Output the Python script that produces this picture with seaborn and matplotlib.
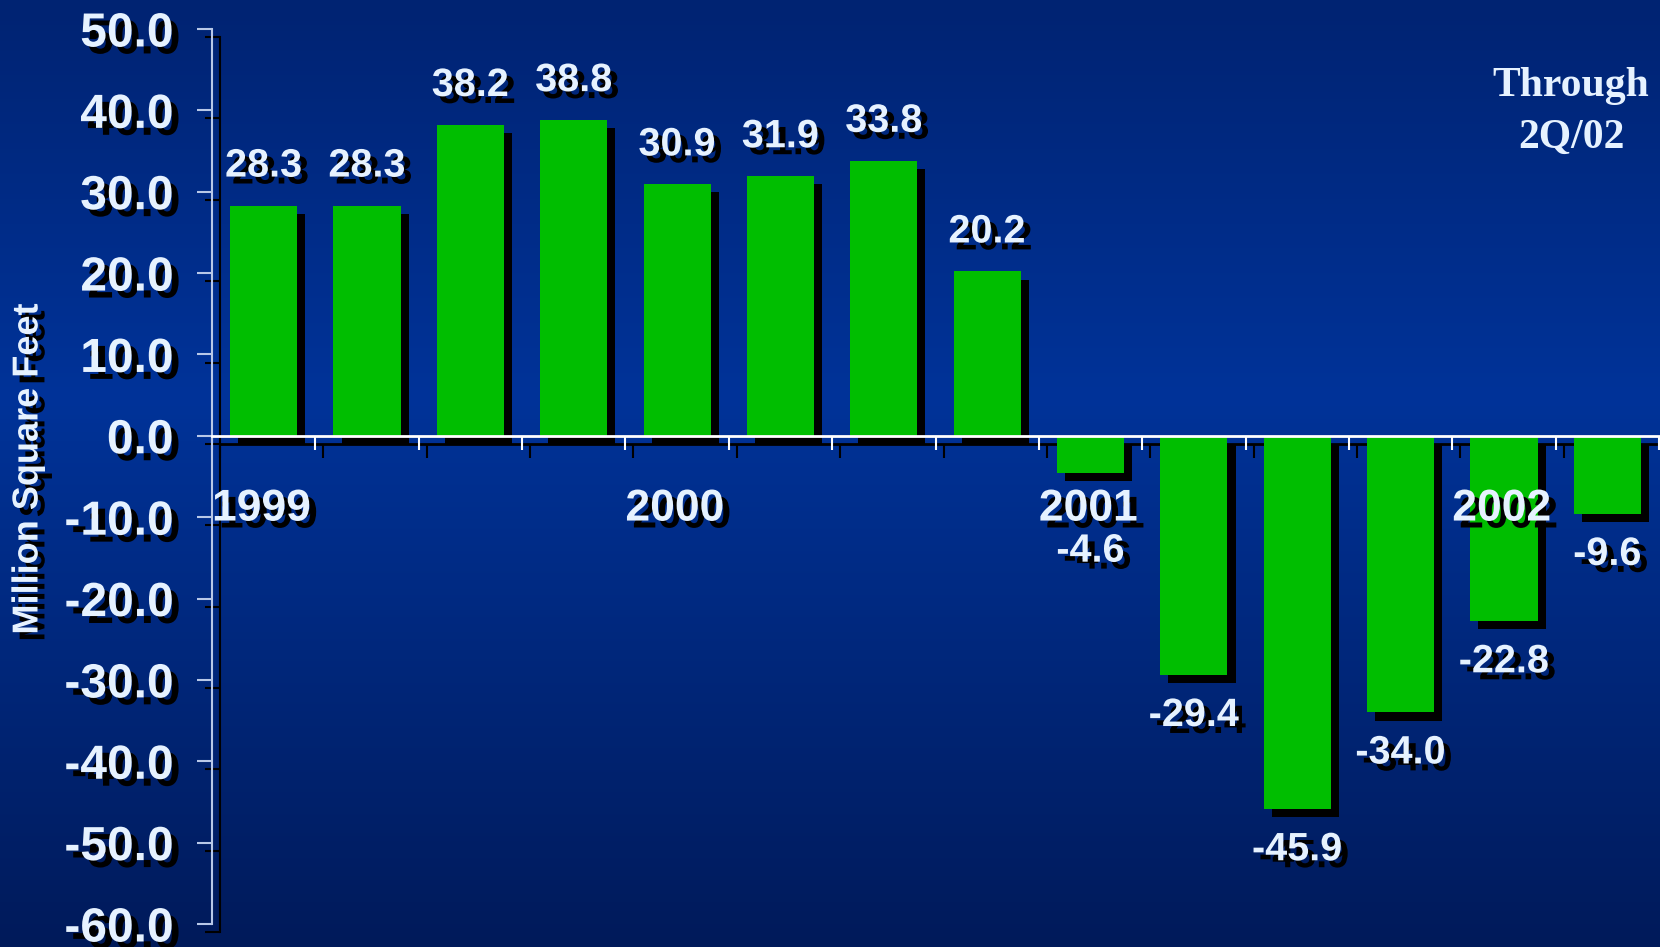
import matplotlib
matplotlib.use("Agg")
import matplotlib.pyplot as plt
import matplotlib.patheffects as pe
import matplotlib.transforms as mtransforms
import numpy as np
import pandas as pd
import seaborn as sns

# ---------------- data ----------------
quarters = ["1Q99", "2Q99", "3Q99", "4Q99",
            "1Q00", "2Q00", "3Q00", "4Q00",
            "1Q01", "2Q01", "3Q01", "4Q01",
            "1Q02", "2Q02"]
absorption = [28.3, 28.3, 38.2, 38.8,
              30.9, 31.9, 33.8, 20.2,
              -4.6, -29.4, -45.9, -34.0,
              -22.8, -9.6]
years = ["1999", "2000", "2001", "2002"]
year_start_index = [0, 4, 8, 12]
y_ticks = [-60, -50, -40, -30, -20, -10, 0, 10, 20, 30, 40, 50]
y_tick_labels = [f"{v:.1f}" for v in y_ticks]
note_text = "Through\n2Q/02"
y_title = "Million Square Feet"

# ---------------- style ----------------
GREEN = "#00BE00"
TXT = "#E6F2FF"
AXIS_C = "#B8C8E8"

sns.set_theme(style="white")
plt.rcParams["font.family"] = ["Liberation Sans", "DejaVu Sans"]
plt.rcParams["font.weight"] = "bold"

W, H = 1660, 947
fig = plt.figure(figsize=(W / 100, H / 100), dpi=100)

# gradient background
stops_pos = [0.0, 0.42, 1.0]
stops_col = [(0x00, 0x23, 0x72), (0x00, 0x33, 0x99), (0x00, 0x1A, 0x5A)]
t = np.linspace(0, 1, 400)
grad = np.zeros((400, 1, 3))
for c in range(3):
    grad[:, 0, c] = np.interp(t, stops_pos, [s[c] for s in stops_col]) / 255.0
bg = fig.add_axes([0, 0, 1, 1], zorder=-5)
bg.imshow(grad, aspect="auto", extent=[0, 1, 0, 1], interpolation="bilinear")
bg.set_axis_off()

left_px, right_px, top_px, bot_px = 212, 1659, 29, 924
ax = fig.add_axes([left_px / W, (H - bot_px) / H,
                   (right_px - left_px) / W, (bot_px - top_px) / H])
ax.patch.set_alpha(0)

df = pd.DataFrame({"quarter": quarters, "value": absorption})
sns.barplot(data=df, x="quarter", y="value", color=GREEN, saturation=1,
            width=0.65, linewidth=0, errorbar=None, ax=ax)

bar_shadow = [pe.SimplePatchShadow(offset=(5.8, -5.8), shadow_rgbFace="black", alpha=1),
              pe.Normal()]
for p in ax.patches:
    p.set_path_effects(bar_shadow)
    p.set_zorder(1)

txt_shadow = [pe.SimplePatchShadow(offset=(5, -5), shadow_rgbFace="black", alpha=1),
              pe.Normal()]
line_shadow = [pe.SimpleLineShadow(offset=(5.8, -5.8), shadow_color="black", alpha=1),
               pe.Normal()]

ax.set_xlim(-0.5, len(quarters) - 0.5)
ax.set_ylim(-60, 50)
ax.set_xlabel("")
ax.set_ylabel("")

# spines
ax.spines["top"].set_visible(False)
ax.spines["right"].set_visible(False)
ax.spines["left"].set_color(AXIS_C)
ax.spines["left"].set_linewidth(1.5)
ax.spines["left"].set_path_effects(line_shadow)
ax.spines["bottom"].set_position(("data", 0))
ax.spines["bottom"].set_color("white")
ax.spines["bottom"].set_linewidth(2)
ax.spines["bottom"].set_zorder(3)

# zero line shadow beneath bars
shadow_tr = mtransforms.offset_copy(ax.get_yaxis_transform(), fig=fig, x=8, y=-8, units="dots")
ax.plot([0, 1], [0, 0], color="black", lw=2, transform=shadow_tr, zorder=0.5, clip_on=False)

# y ticks
ax.set_yticks(y_ticks)
ax.set_yticklabels(y_tick_labels, fontsize=34.5, fontweight="bold", color=TXT)
ax.tick_params(axis="y", which="major", left=True, direction="out", length=10.8,
               width=1.5, color=AXIS_C, pad=17)
for tk in ax.yaxis.get_major_ticks():
    tk.tick1line.set_path_effects(line_shadow)
for lab in ax.get_yticklabels():
    lab.set_path_effects(txt_shadow)

# x ticks at category boundaries
ax.set_xticks([])
ax.set_xticks(np.arange(-0.5, len(quarters), 1.0), minor=True)
ax.tick_params(axis="x", which="minor", bottom=True, direction="out", length=10,
               width=1.5, color="white", labelbottom=False)
for tk in ax.xaxis.get_minor_ticks():
    tk.tick1line.set_path_effects(line_shadow)

# year labels
for yr, idx in zip(years, year_start_index):
    ax.text(idx - 0.5, -9.0, yr, ha="left", va="center", fontsize=32,
            fontweight="bold", color=TXT, path_effects=txt_shadow, zorder=4)

# value labels
for i, v in enumerate(absorption):
    if v >= 0:
        anchor, dy = v, 28.8
    else:
        anchor, dy = min(v, -9.2), -28.8
    ax.annotate(f"{v:.1f}", xy=(i, anchor), xytext=(0, dy), textcoords="offset points",
                ha="center", va="center", fontsize=28.5, fontweight="bold", color=TXT,
                path_effects=txt_shadow, zorder=4, annotation_clip=False)

# y title
fig.text(28 / W, 1 - 469 / H, y_title, rotation=90, ha="center", va="center",
         fontsize=26, fontweight="bold", color=TXT, path_effects=txt_shadow)

# note
fig.text(1571 / W, 1 - 112 / H, note_text, ha="center", va="center", fontsize=30,
         fontweight="bold", color=TXT, family=["Liberation Serif", "DejaVu Serif"],
         linespacing=1.48)

fig.savefig("out.png", dpi=100)
